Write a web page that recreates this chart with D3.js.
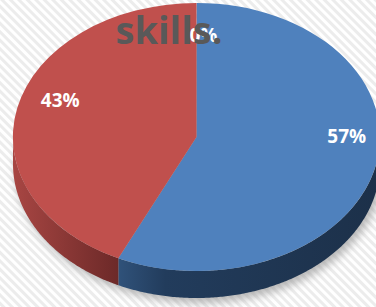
<!DOCTYPE html>
<html>
<head>
<meta charset="utf-8">
<script src="https://cdn.jsdelivr.net/npm/d3@7"></script>
<style>
  html, body { margin: 0; padding: 0; background: #fff; }
  svg { display: block; }
</style>
</head>
<body>
<svg id="chart" width="376" height="307"></svg>
<script>
// data
const categories = ["Other", "Yes", "No"];
const values = [0, 57, 43];
const labels = ["0%", "57%", "43%"];
const colors = ["#4f81bd", "#4f81bd", "#c0504d"];
const title = "skills.";

const svg = d3.select("#chart");
const width = +svg.attr("width");
const height = +svg.attr("height");

const cx = 196.5, cy = 137, rx = 183.5, ry = 134, depth = 27;

const defs = svg.append("defs");

// striped background
const pat = defs.append("pattern")
  .attr("id", "stripes")
  .attr("patternUnits", "userSpaceOnUse")
  .attr("width", 6)
  .attr("height", 6)
  .attr("patternTransform", "rotate(-45)");
pat.append("rect").attr("width", 6).attr("height", 6).attr("fill", "#ffffff");
pat.append("rect").attr("width", 3).attr("height", 6).attr("fill", "#ececec");

svg.append("rect").attr("width", width).attr("height", height).attr("fill", "url(#stripes)");

// shadow filter
const blur = defs.append("filter").attr("id", "shadow").attr("x", "-20%").attr("y", "-20%").attr("width", "140%").attr("height", "140%");
blur.append("feGaussianBlur").attr("stdDeviation", 4);

// side gradients
const sideGrad = {
  "#4f81bd": [["0%", "#30527a"], ["18%", "#223c5c"], ["100%", "#1c3049"]],
  "#c0504d": [["0%", "#a84643"], ["100%", "#6c2928"]]
};
Object.entries(sideGrad).forEach(([c, stops], i) => {
  const g = defs.append("linearGradient").attr("id", "side" + i).attr("x1", 0).attr("x2", 1).attr("y1", 0).attr("y2", 0);
  stops.forEach((s) => g.append("stop").attr("offset", s[0]).attr("stop-color", s[1]));
  sideGrad[c].id = "side" + i;
});

const pie = d3.pie().sort(null).value((d) => d).startAngle(0).endAngle(2 * Math.PI);
const arcs = pie(values);

const pt = (a, dy) => [cx + rx * Math.sin(a), cy - ry * Math.cos(a) + dy];
const line = d3.line();

// shadow under the whole disc
const ring = d3.range(0, 2 * Math.PI + 0.01, 0.02);
svg.append("path")
  .attr("d", line(ring.map((a) => pt(a, depth))) + "Z")
  .attr("transform", "translate(3,5)")
  .attr("fill", "#9a9a9a")
  .attr("opacity", 0.7)
  .attr("filter", "url(#shadow)");

// side walls (front half only)
arcs.forEach((d, i) => {
  const s = Math.max(d.startAngle, Math.PI / 2);
  const e = Math.min(d.endAngle, 1.5 * Math.PI);
  if (s >= e) return;
  const steps = d3.range(s, e, 0.01).concat([e]);
  const pts = steps.map((a) => pt(a, 0)).concat(steps.slice().reverse().map((a) => pt(a, depth)));
  svg.append("path")
    .attr("d", line(pts) + "Z")
    .attr("fill", `url(#${sideGrad[colors[i]].id})`);
});

// top surface
const arc = d3.arc().innerRadius(0).outerRadius(1);
svg.append("g")
  .attr("transform", `translate(${cx},${cy}) scale(${rx},${ry})`)
  .selectAll("path")
  .data(arcs)
  .join("path")
  .attr("d", arc)
  .attr("fill", (d, i) => colors[i]);

// labels sit on a smaller, raised ellipse
const lcx = cx + 7, lcy = 118, lrx = rx * 0.8, lry = ry * 0.62;
const mid = (d) => (d.startAngle + d.endAngle) / 2;
svg.append("g")
  .selectAll("text")
  .data(arcs)
  .join("text")
  .attr("x", (d) => lcx + lrx * Math.sin(mid(d)))
  .attr("y", (d) => lcy - lry * Math.cos(mid(d)) + 7)
  .attr("text-anchor", "middle")
  .attr("font-family", "'Open Sans', sans-serif")
  .attr("font-weight", "bold")
  .attr("font-size", 19)
  .attr("fill", "#ffffff")
  .text((d, i) => labels[i]);

// title
svg.append("text")
  .attr("x", 169)
  .attr("y", 44)
  .attr("text-anchor", "middle")
  .attr("font-family", "'Open Sans', sans-serif")
  .attr("font-weight", "bold")
  .attr("font-size", 38)
  .attr("fill", "#595959")
  .text(title);
</script>
</body>
</html>
